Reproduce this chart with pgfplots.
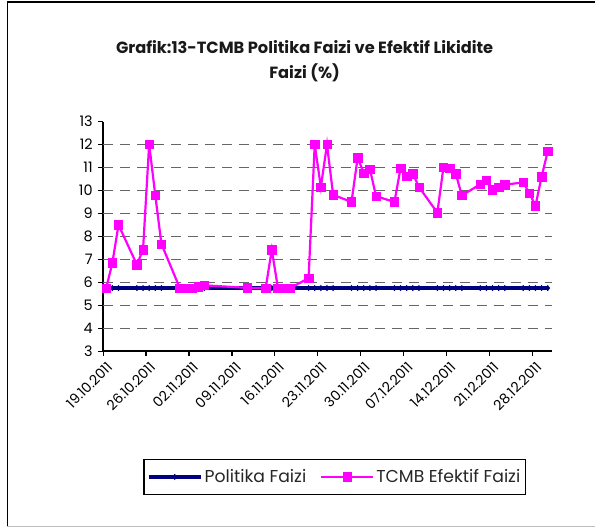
\documentclass[border=0pt]{standalone}
\usepackage{pgfplots}
\pgfplotsset{compat=1.18}
\usepackage{fontspec}
\setmainfont{Poppins}
\definecolor{navyline}{RGB}{0,0,128}
\definecolor{magline}{RGB}{255,0,255}
\begin{document}
\begin{tikzpicture}[x=1bp,y=1bp]
\path (0,0) rectangle (596,528);
\draw[line width=1.5bp] (596,526) -- (7.5,526) -- (7.5,1);
\draw[black!25, line width=1bp] (7.5,1) -- (596,1);
\node[font=\bfseries\fontsize{16.3}{25}\selectfont, align=center, text=black!90] at (305,467) {Grafik:13-TCMB Politika Faizi ve Efektif Likidite\\Faizi (\%)};
\begin{axis}[
  at={(103.3bp,176.3bp)}, anchor=south west,
  scale only axis, width=449.4bp, height=230bp,
  xmin=0, xmax=73.2, ymin=3, ymax=13,
  axis lines*=left,
  axis line style={black, line width=1.6bp},
  xtick={0,7,...,70},
  xticklabels={19.10.2011,26.10.2011,02.11.2011,09.11.2011,16.11.2011,23.11.2011,30.11.2011,07.12.2011,14.12.2011,21.12.2011,28.12.2011},
  x tick label style={rotate=45, anchor=north east, font=\fontsize{14}{16}\selectfont, yshift=-4bp, inner sep=1bp},
  ytick={3,...,13},
  y tick label style={font=\fontsize{14.5}{16}\selectfont, xshift=-2bp},
  /pgf/number format/assume math mode=true,
  tick align=outside, major tick length=5bp,
  tick style={black, line width=1.2bp},
  extra y ticks={4,...,12}, extra y tick labels={},
  extra y tick style={grid=major, major tick length=0pt},
  grid style={black!60, line width=1bp, dash pattern=on 10bp off 7bp},
  legend columns=2,
  legend style={at={(0.5156,-0.547)}, anchor=center, draw=black, line width=1.3bp,
    font=\fontsize{17.3}{19}\selectfont, text=black!85, inner ysep=8bp, inner xsep=3bp,
    /tikz/every even column/.append style={column sep=12bp}},
  legend image code/.code={\draw[mark repeat=2,mark phase=2] plot coordinates {(0bp,0bp) (26bp,0bp) (52bp,0bp)};},
]
\addplot[navyline, line width=3.8bp, mark=diamond*, mark size=2.7bp, mark options={solid, line width=0.5bp}] coordinates {
(0.5,5.75)(1.5,5.75)(2.5,5.75)(5.5,5.75)(6.5,5.75)(7.5,5.75)(8.5,5.75)(9.5,5.75)
(12.5,5.75)(13.5,5.75)(14.5,5.75)(15.5,5.75)(16.5,5.75)(23.5,5.75)
(26.5,5.75)(27.5,5.75)(28.5,5.75)(29.5,5.75)(30.5,5.75)
(33.5,5.75)(34.5,5.75)(35.5,5.75)(36.5,5.75)(37.5,5.75)
(40.5,5.75)(41.5,5.75)(42.5,5.75)(43.5,5.75)(44.5,5.75)
(47.5,5.75)(48.5,5.75)(49.5,5.75)(50.5,5.75)(51.5,5.75)
(54.5,5.75)(55.5,5.75)(56.5,5.75)(57.5,5.75)(58.5,5.75)
(61.5,5.75)(62.5,5.75)(63.5,5.75)(64.5,5.75)(65.5,5.75)
(68.5,5.75)(69.5,5.75)(70.5,5.75)(71.5,5.75)(72.5,5.75)
};
\addlegendentry{Politika Faizi}
\addplot[magline, line width=2.2bp, mark=square*, mark size=4.2bp, mark options={solid, line width=0.5bp}] coordinates {
(0.5,5.75)(1.5,6.85)(2.5,8.5)(5.5,6.77)(6.5,7.42)(7.5,12.02)(8.5,9.78)(9.5,7.67)
(12.5,5.75)(13.5,5.75)(14.5,5.75)(15.5,5.8)(16.5,5.87)(23.5,5.76)
(26.5,5.75)(27.5,7.42)(28.5,5.75)(29.5,5.75)(30.5,5.75)
(33.5,6.18)(34.5,12.0)(35.5,10.15)(36.5,12.0)(37.5,9.81)
(40.5,9.5)(41.5,11.43)(42.5,10.75)(43.5,10.93)(44.5,9.75)
(47.5,9.5)(48.5,10.97)(49.5,10.62)(50.5,10.73)(51.5,10.15)
(54.5,9.03)(55.5,11.02)(56.5,10.97)(57.5,10.73)(58.5,9.78)
(61.5,10.27)(62.5,10.45)(63.5,10.03)(64.5,10.15)(65.5,10.25)
(68.5,10.35)(69.5,9.89)(70.5,9.33)(71.5,10.6)(72.5,11.7)
};
\addlegendentry{TCMB Efektif Faizi}
\end{axis}
\end{tikzpicture}
\end{document}
